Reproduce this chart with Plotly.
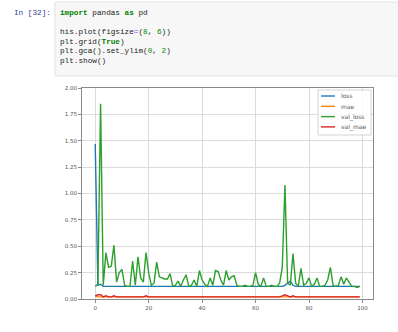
import plotly.graph_objects as go

epochs = list(range(100))

loss = [1.47, 0.13, 0.14, 0.12, 0.12, 0.12, 0.12, 0.12, 0.12, 0.12,
        0.12, 0.12, 0.12, 0.12, 0.12, 0.12, 0.12, 0.12, 0.12, 0.12,
        0.12, 0.12, 0.12, 0.12, 0.12, 0.12, 0.12, 0.12, 0.12, 0.12,
        0.12, 0.12, 0.12, 0.12, 0.12, 0.12, 0.12, 0.12, 0.12, 0.12,
        0.12, 0.12, 0.12, 0.12, 0.12, 0.12, 0.12, 0.12, 0.12, 0.12,
        0.12, 0.12, 0.12, 0.12, 0.12, 0.12, 0.12, 0.12, 0.12, 0.12,
        0.12, 0.12, 0.12, 0.12, 0.12, 0.12, 0.12, 0.12, 0.12, 0.12,
        0.12, 0.13, 0.15, 0.17, 0.13, 0.12, 0.12, 0.12, 0.12, 0.12,
        0.12, 0.12, 0.12, 0.12, 0.12, 0.12, 0.12, 0.12, 0.12, 0.12,
        0.12, 0.12, 0.12, 0.12, 0.12, 0.12, 0.12, 0.12, 0.12, 0.12]

mae = [0.03, 0.02, 0.02, 0.02, 0.02, 0.02, 0.02, 0.02, 0.02, 0.02,
       0.02, 0.02, 0.02, 0.02, 0.02, 0.02, 0.02, 0.02, 0.02, 0.02,
       0.02, 0.02, 0.02, 0.02, 0.02, 0.02, 0.02, 0.02, 0.02, 0.02,
       0.02, 0.02, 0.02, 0.02, 0.02, 0.02, 0.02, 0.02, 0.02, 0.02,
       0.02, 0.02, 0.02, 0.02, 0.02, 0.02, 0.02, 0.02, 0.02, 0.02,
       0.02, 0.02, 0.02, 0.02, 0.02, 0.02, 0.02, 0.02, 0.02, 0.02,
       0.02, 0.02, 0.02, 0.02, 0.02, 0.02, 0.02, 0.02, 0.02, 0.02,
       0.02, 0.02, 0.02, 0.02, 0.02, 0.02, 0.02, 0.02, 0.02, 0.02,
       0.02, 0.02, 0.02, 0.02, 0.02, 0.02, 0.02, 0.02, 0.02, 0.02,
       0.02, 0.02, 0.02, 0.02, 0.02, 0.02, 0.02, 0.02, 0.02, 0.02]

val_loss = [0.12, 0.14, 1.85, 0.13, 0.44, 0.30, 0.31, 0.51, 0.16, 0.25,
            0.28, 0.13, 0.12, 0.12, 0.36, 0.13, 0.40, 0.20, 0.16, 0.44,
            0.25, 0.13, 0.15, 0.35, 0.21, 0.20, 0.19, 0.19, 0.24, 0.12,
            0.13, 0.17, 0.12, 0.18, 0.23, 0.12, 0.13, 0.18, 0.12, 0.27,
            0.18, 0.14, 0.12, 0.20, 0.13, 0.27, 0.26, 0.18, 0.13, 0.27,
            0.18, 0.21, 0.22, 0.13, 0.12, 0.12, 0.13, 0.12, 0.12, 0.13,
            0.25, 0.14, 0.12, 0.20, 0.12, 0.12, 0.13, 0.12, 0.12, 0.15,
            0.30, 1.08, 0.15, 0.13, 0.43, 0.15, 0.12, 0.29, 0.13, 0.15,
            0.20, 0.12, 0.14, 0.20, 0.12, 0.12, 0.13, 0.18, 0.30, 0.13,
            0.12, 0.13, 0.21, 0.14, 0.20, 0.16, 0.12, 0.12, 0.11, 0.12]

val_mae = [0.03, 0.04, 0.04, 0.02, 0.03, 0.02, 0.02, 0.03, 0.02, 0.02,
           0.02, 0.02, 0.02, 0.02, 0.02, 0.02, 0.02, 0.02, 0.02, 0.03,
           0.02, 0.02, 0.02, 0.02, 0.02, 0.02, 0.02, 0.02, 0.02, 0.02,
           0.02, 0.02, 0.02, 0.02, 0.02, 0.02, 0.02, 0.02, 0.02, 0.02,
           0.02, 0.02, 0.02, 0.02, 0.02, 0.02, 0.02, 0.02, 0.02, 0.02,
           0.02, 0.02, 0.02, 0.02, 0.02, 0.02, 0.02, 0.02, 0.02, 0.02,
           0.02, 0.02, 0.02, 0.02, 0.02, 0.02, 0.02, 0.02, 0.02, 0.02,
           0.03, 0.04, 0.03, 0.02, 0.03, 0.02, 0.02, 0.02, 0.02, 0.02,
           0.02, 0.02, 0.02, 0.02, 0.02, 0.02, 0.02, 0.02, 0.02, 0.02,
           0.02, 0.02, 0.02, 0.02, 0.02, 0.02, 0.02, 0.02, 0.02, 0.02]

series_names = ["loss", "mae", "val_loss", "val_mae"]
series_values = [loss, mae, val_loss, val_mae]
series_colors = ["#1f77b4", "#ff7f0e", "#2ca02c", "#d62728"]

x_ticks = [0, 20, 40, 60, 80, 100]
y_ticks = [0, 0.25, 0.5, 0.75, 1.0, 1.25, 1.5, 1.75, 2.0]

prompt = "In [32]:"
code_lines = [
    '<span style="color:#008000"><b>import</b></span> pandas <span style="color:#008000"><b>as</b></span> pd',
    '',
    'his.plot(figsize<span style="color:#AA22FF">=</span>(<span style="color:#008800">8</span>, <span style="color:#008800">6</span>))',
    'plt.grid(<span style="color:#008000"><b>True</b></span>)',
    'plt.gca().set_ylim(<span style="color:#008800">0</span>, <span style="color:#008800">2</span>)',
    'plt.show()',
]

W, H = 398, 332
L, R, T, B = 82, 373, 88, 299


def px(xp):
    return (xp - L) / (R - L)


def py(yp):
    return (B - yp) / (B - T)


fig = go.Figure()
for name, vals, col in zip(series_names, series_values, series_colors):
    fig.add_trace(go.Scatter(x=epochs, y=vals, mode="lines", name=name,
                             line=dict(color=col, width=1.4), showlegend=False))

mono = "Liberation Mono, DejaVu Sans Mono, monospace"
fig.add_shape(type="rect", xref="paper", yref="paper",
              x0=px(55), x1=px(400), y0=py(76), y1=py(2),
              fillcolor="#f7f7f7", line=dict(color="#e2e2e2", width=1), layer="below")
fig.add_annotation(xref="paper", yref="paper", x=px(12), y=py(13), xanchor="left",
                   yanchor="middle", showarrow=False, text=prompt,
                   font=dict(family=mono, size=7.7, color="#303F9F"))
for i, line in enumerate(code_lines):
    if not line:
        continue
    fig.add_annotation(xref="paper", yref="paper", x=px(57.5), y=py(13 + i * 9.6),
                       xanchor="left", yanchor="middle", showarrow=False, text=line,
                       font=dict(family=mono, size=7.7, color="#222222"))

# legend (matplotlib-style, compact)
fig.add_shape(type="rect", xref="paper", yref="paper",
              x0=px(318), x1=px(371), y0=py(135), y1=py(90),
              fillcolor="rgba(255,255,255,0.85)", line=dict(color="#d4d4d4", width=1))
for i, (name, col) in enumerate(zip(series_names, series_colors)):
    yy = 96 + i * 10.3
    fig.add_shape(type="line", xref="paper", yref="paper",
                  x0=px(321), x1=px(335), y0=py(yy), y1=py(yy),
                  line=dict(color=col, width=1.4))
    fig.add_annotation(xref="paper", yref="paper", x=px(338.5), y=py(yy),
                       xanchor="left", yanchor="middle", showarrow=False, text=name,
                       font=dict(family="DejaVu Sans", size=6, color="#555555"))

axis_common = dict(showline=True, mirror=True, linecolor="#8a8a8a", linewidth=1,
                   showgrid=True, gridcolor="#dcdcdc", gridwidth=1, zeroline=False,
                   ticks="outside", ticklen=3, tickcolor="#8a8a8a",
                   tickfont=dict(family="DejaVu Sans", size=5.5, color="#555555"))

fig.update_xaxes(range=[-4.95, 103.95], tickvals=x_ticks, **axis_common)
fig.update_yaxes(range=[0, 2], tickvals=y_ticks, tickformat=".2f", **axis_common)

fig.update_layout(
    width=W, height=H,
    margin=dict(l=L, r=W - R, t=T, b=H - B, pad=0),
    paper_bgcolor="white", plot_bgcolor="white",
    showlegend=False,
)

fig.write_html("out.html")
